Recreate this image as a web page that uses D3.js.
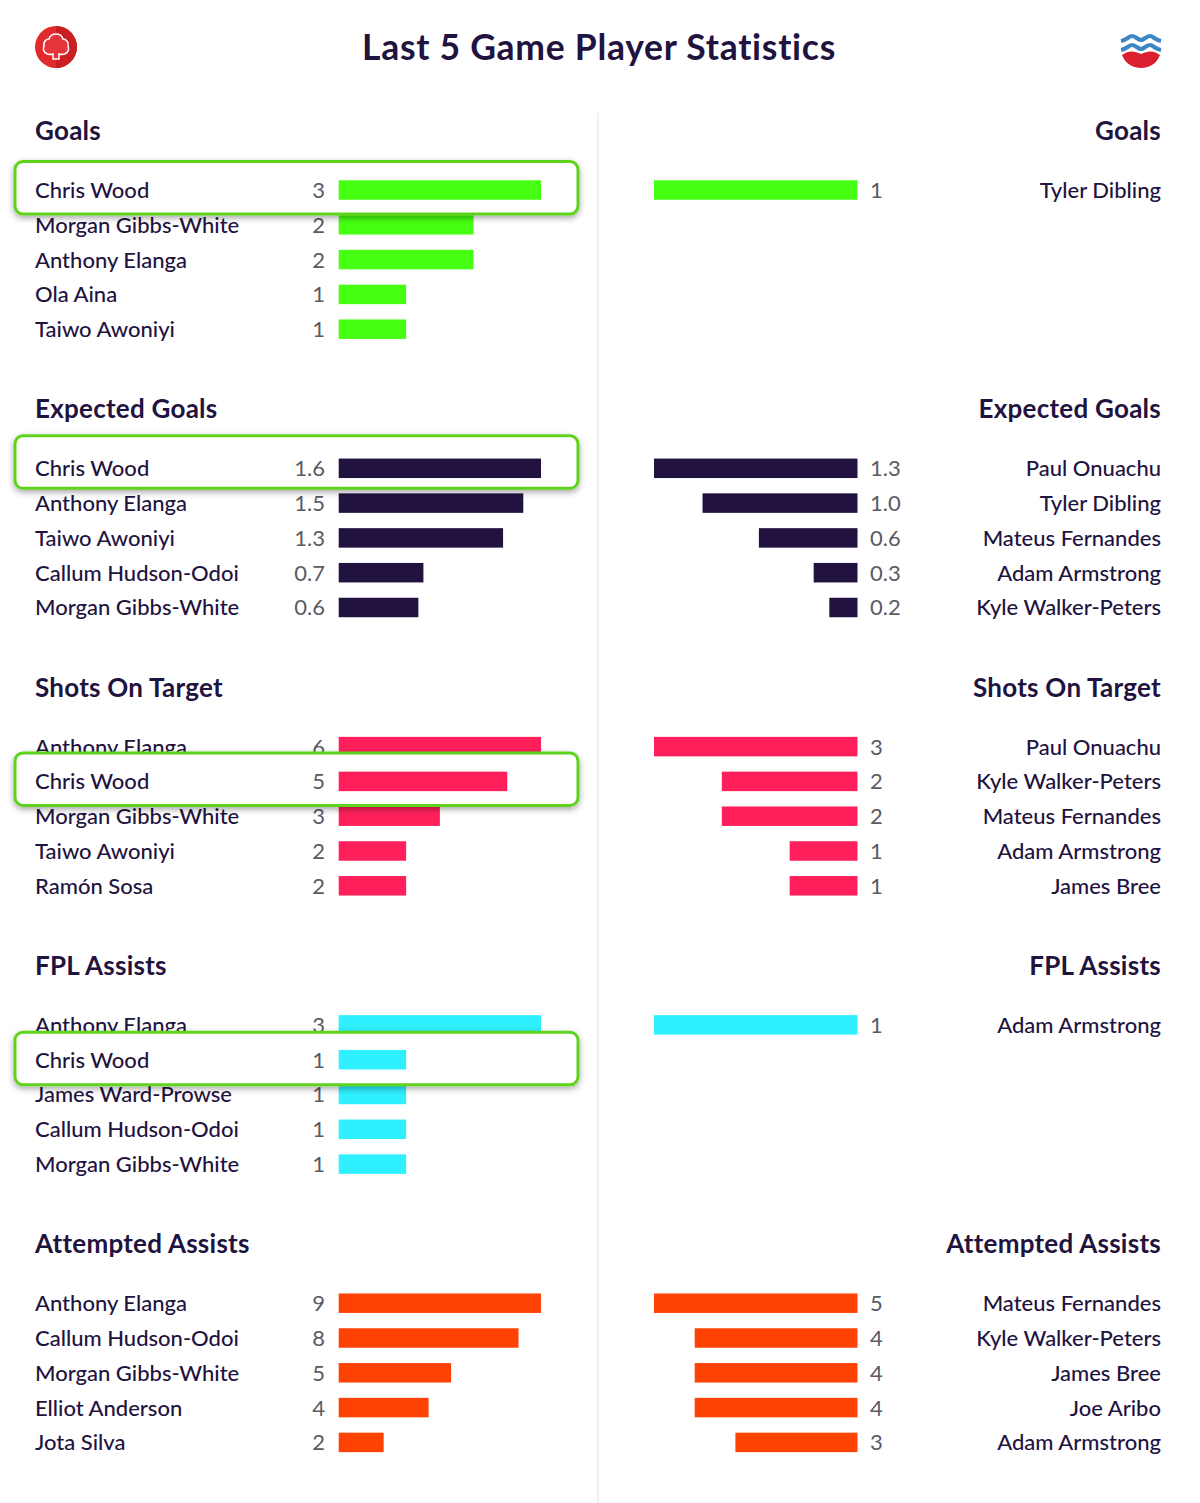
<!DOCTYPE html>
<html>
<head>
<meta charset="utf-8">
<script src="https://d3js.org/d3.v7.min.js"></script>
<style>
    html, body { margin: 0; padding: 0; background: #fff; }
    text { font-family: Lato, sans-serif; }
</style>
</head>
<body>
<div id="chart"></div>
<script>
const chartTitle = "Last 5 Game Player Statistics";
const sectionTitles = ["Goals", "Expected Goals", "Shots On Target", "FPL Assists", "Attempted Assists"];
const sectionColors = ["#46ff12", "#21123f", "#ff1f5b", "#2ef0ff", "#ff4304"];
const sectionFormats = ["d", ".1f", "d", "d", "d"];
const highlightName = "Chris Wood";
// the highlight boxes sit a little unevenly in the picture
const boxShift = [0, -4, 0, 1, 0];

const leftNames = [
    ["Chris Wood", "Morgan Gibbs-White", "Anthony Elanga", "Ola Aina", "Taiwo Awoniyi"],
    ["Chris Wood", "Anthony Elanga", "Taiwo Awoniyi", "Callum Hudson-Odoi", "Morgan Gibbs-White"],
    ["Anthony Elanga", "Chris Wood", "Morgan Gibbs-White", "Taiwo Awoniyi", "Ramón Sosa"],
    ["Anthony Elanga", "Chris Wood", "James Ward-Prowse", "Callum Hudson-Odoi", "Morgan Gibbs-White"],
    ["Anthony Elanga", "Callum Hudson-Odoi", "Morgan Gibbs-White", "Elliot Anderson", "Jota Silva"]
];
const leftValues = [
    [3, 2, 2, 1, 1],
    [1.6, 1.46, 1.3, 0.67, 0.63],
    [6, 5, 3, 2, 2],
    [3, 1, 1, 1, 1],
    [9, 8, 5, 4, 2]
];
const rightNames = [
    ["Tyler Dibling"],
    ["Paul Onuachu", "Tyler Dibling", "Mateus Fernandes", "Adam Armstrong", "Kyle Walker-Peters"],
    ["Paul Onuachu", "Kyle Walker-Peters", "Mateus Fernandes", "Adam Armstrong", "James Bree"],
    ["Adam Armstrong"],
    ["Mateus Fernandes", "Kyle Walker-Peters", "James Bree", "Joe Aribo", "Adam Armstrong"]
];
const rightValues = [
    [1],
    [1.3, 0.99, 0.63, 0.28, 0.18],
    [3, 2, 2, 1, 1],
    [1],
    [5, 4, 4, 4, 3]
];

const width = 1200;
const height = 1503;
const textColor = "#1f1340";
const valueColor = "#5a5a64";
const sectionStep = 278.3;
const rowCount = 5;

const svg = d3.select("#chart").append("svg")
    .attr("width", width)
    .attr("height", height)
    .style("display", "block");

const defs = svg.append("defs");
const shadow = defs.append("filter").attr("id", "boxShadow")
    .attr("x", "-5%").attr("y", "-30%").attr("width", "110%").attr("height", "170%");
shadow.append("feDropShadow")
    .attr("dx", 0).attr("dy", 2.5).attr("stdDeviation", 3)
    .attr("flood-color", "#000").attr("flood-opacity", 0.35);

svg.append("line")
    .attr("x1", 598).attr("x2", 598).attr("y1", 113).attr("y2", height)
    .attr("stroke", "#eeeeef").attr("stroke-width", 2);

svg.append("text")
    .attr("x", 599).attr("y", 60)
    .attr("text-anchor", "middle")
    .attr("font-size", 35.5)
    .attr("font-weight", 700)
    .attr("letter-spacing", 0.72)
    .attr("fill", textColor)
    .text(chartTitle);

// left badge
const badgeL = svg.append("g").attr("transform", "translate(56,47)");
badgeL.append("circle").attr("r", 21).attr("fill", "#e12a2c");
badgeL.append("path").attr("d", "M0,-21A21,21 0 0 1 0,21Z").attr("fill", "#c81f22");
badgeL.append("path")
    .attr("d", "M-3,12 L-3,7 C-10,9 -14,4 -12,-1 C-13,-6 -9,-8 -7,-8 C-6,-12 -2,-13 0,-13 C3,-13 6,-12 7,-8 C10,-8 13,-5 12,-1 C14,4 10,9 3,7 L3,12 Z")
    .attr("fill", "#e5343a").attr("stroke", "#fff").attr("stroke-width", 1.5);

// right badge
const badgeR = svg.append("g").attr("transform", "translate(1141,47)");
badgeR.append("path")
    .attr("d", "M-19,8 C-12,3 -7,4 0,7 C7,4 12,3 19,8 C16,16 9,21 0,21 C-9,21 -16,16 -19,8 Z")
    .attr("fill", "#dc1f30");
[-5, 4].forEach(function(dy) {
    badgeR.append("path")
        .attr("d", "M-20," + (dy - 1) + " C-14," + (dy - 2) + " -12," + (dy - 6) + " -9," + (dy - 6)
            + " C-5," + (dy - 6) + " -3," + (dy - 2) + " 0," + (dy - 2)
            + " C3," + (dy - 2) + " 5," + (dy - 6) + " 9," + (dy - 6)
            + " C12," + (dy - 6) + " 14," + (dy - 2) + " 20," + (dy - 1))
        .attr("fill", "none").attr("stroke", "#3d86c6").attr("stroke-width", 4.2);
});

sectionTitles.forEach(function(title, i) {
    const top = i * sectionStep;
    const g = svg.append("g").attr("transform", "translate(0," + top + ")");
    const fmt = d3.format(sectionFormats[i]);
    const color = sectionColors[i];

    const y = d3.scaleBand()
        .domain(d3.range(rowCount))
        .range([172.6, 346.6])
        .paddingInner(0.44)
        .paddingOuter(0.22);

    const xLeft = d3.scaleLinear().domain([0, d3.max(leftValues[i])]).range([338.7, 541]);
    const xRight = d3.scaleLinear().domain([0, d3.max(rightValues[i])]).range([857.5, 654]);

    g.append("text").attr("x", 35).attr("y", 140)
        .attr("font-size", 26).attr("font-weight", 700).attr("letter-spacing", 0.25).attr("fill", textColor).text(title);
    g.append("text").attr("x", 1161).attr("y", 140).attr("text-anchor", "end")
        .attr("font-size", 26).attr("font-weight", 700).attr("letter-spacing", 0.25).attr("fill", textColor).text(title);

    function drawLeftRow(sel) {
        sel.append("text").attr("x", 35)
            .attr("y", d => y(d) + y.bandwidth() / 2 + 8)
            .attr("font-size", 22).attr("font-weight", 500).attr("fill", textColor)
            .text(d => leftNames[i][d]);
        sel.append("text").attr("x", 325).attr("text-anchor", "end")
            .attr("y", d => y(d) + y.bandwidth() / 2 + 8)
            .attr("font-size", 22).attr("fill", valueColor)
            .text(d => fmt(leftValues[i][d]));
        sel.append("rect").attr("x", xLeft(0))
            .attr("y", d => y(d))
            .attr("width", d => xLeft(leftValues[i][d]) - xLeft(0))
            .attr("height", y.bandwidth())
            .attr("fill", color);
    }

    const leftIdx = d3.range(leftNames[i].length);
    const hi = leftNames[i].indexOf(highlightName);

    g.append("g").selectAll("g").data(leftIdx.filter(d => d !== hi)).enter().append("g").call(drawLeftRow);

    if (hi >= 0) {
        const cy = y(hi) + y.bandwidth() / 2;
        g.append("rect")
            .attr("x", 15).attr("y", cy - 28.5 + boxShift[i])
            .attr("width", 563).attr("height", 52.5)
            .attr("rx", 8)
            .attr("fill", "#fff")
            .attr("stroke", "#5fd31f").attr("stroke-width", 3)
            .attr("filter", "url(#boxShadow)");
        g.append("g").selectAll("g").data([hi]).enter().append("g").call(drawLeftRow);
    }

    const rightRows = g.append("g").selectAll("g").data(d3.range(rightNames[i].length)).enter().append("g");
    rightRows.append("rect")
        .attr("x", d => xRight(rightValues[i][d]))
        .attr("y", d => y(d))
        .attr("width", d => xRight(0) - xRight(rightValues[i][d]))
        .attr("height", y.bandwidth())
        .attr("fill", color);
    rightRows.append("text").attr("x", 870)
        .attr("y", d => y(d) + y.bandwidth() / 2 + 8)
        .attr("font-size", 22).attr("fill", valueColor)
        .text(d => fmt(rightValues[i][d]));
    rightRows.append("text").attr("x", 1161).attr("text-anchor", "end")
        .attr("y", d => y(d) + y.bandwidth() / 2 + 8)
        .attr("font-size", 22).attr("font-weight", 500).attr("fill", textColor)
        .text(d => rightNames[i][d]);
});
</script>
</body>
</html>
